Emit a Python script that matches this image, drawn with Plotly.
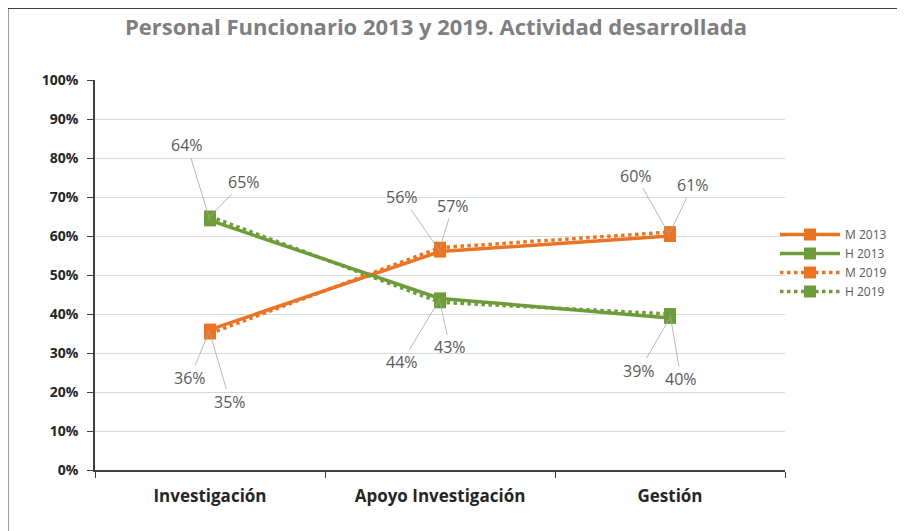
import plotly.graph_objects as go

categories = ["Investigación", "Apoyo Investigación", "Gestión"]
m2013 = [0.36, 0.56, 0.60]
h2013 = [0.64, 0.44, 0.39]
m2019 = [0.35, 0.57, 0.61]
h2019 = [0.65, 0.43, 0.40]
yticks = [0, 0.1, 0.2, 0.3, 0.4, 0.5, 0.6, 0.7, 0.8, 0.9, 1.0]

ORANGE = "#EB7424"
GREEN = "#6F9C3A"
FONT = "Open Sans, sans-serif"

fig = go.Figure()
series = [
    ("M 2013", m2013, ORANGE, "solid"),
    ("H 2013", h2013, GREEN, "solid"),
    ("M 2019", m2019, ORANGE, "dot"),
    ("H 2019", h2019, GREEN, "dot"),
]
for name, vals, col, dash in series:
    fig.add_trace(go.Scatter(
        x=categories, y=vals, name=name, mode="lines+markers",
        line=dict(color=col, width=3.5, dash=dash),
        marker=dict(symbol="square", size=12, color=col),
    ))

# label offsets (px) for each series at each category
offsets = {
    "M 2013": [(-20, 48), (-38, -55), (-34, -60)],
    "H 2013": [(-23, -75), (-38, 64), (-31, 53)],
    "M 2019": [(20, 68), (13, -42), (23, -47)],
    "H 2019": [(34, -35), (10, 45), (11, 65)],
}
for name, vals, col, dash in series:
    for i, v in enumerate(vals):
        ax, ay = offsets[name][i]
        fig.add_annotation(
            x=categories[i], y=v, xref="x", yref="y",
            text=f"{round(v*100)}%", showarrow=True, arrowhead=0,
            arrowwidth=0.8, arrowcolor="#A6A6A6", ax=ax, ay=ay,
            standoff=0, startstandoff=0,
            font=dict(family=FONT, size=16, color="#595959"),
        )

# page has an 8px body margin, so the figure is 897x523 offset by (8, 8)
W, H = 897, 523
L, R, T, B = 87, 120, 72, 61
pw, ph = W - L - R, H - T - B

fig.add_shape(type="rect", xref="paper", yref="paper",
              x0=-L / pw, x1=(W - 1 - L) / pw,
              y0=-(B + 20) / ph, y1=(ph + T - 0.5) / ph,
              line=dict(color="#404040", width=1), fillcolor="white", layer="below")

fig.update_layout(
    width=W, height=H,
    margin=dict(l=L, r=R, t=T, b=B),
    paper_bgcolor="white", plot_bgcolor="rgba(0,0,0,0)",
    title=dict(text="Personal Funcionario 2013 y 2019. Actividad desarrollada",
               x=(436 - 8) / W, xanchor="center", y=1 - (27 - 8) / H, yanchor="middle",
               font=dict(family=FONT, size=22, color="#7F7F7F", weight="bold")),
    showlegend=True,
    legend=dict(x=(775 - 8 - L) / pw, xanchor="left", y=(462 - (263 - 8)) / ph, yanchor="middle",
                font=dict(family=FONT, size=12, color="#595959"),
                tracegroupgap=2, itemwidth=60, bgcolor="rgba(0,0,0,0)"),
    xaxis=dict(range=[-0.5, 2.5], tickson="boundaries", ticks="outside", ticklen=6,
               tickcolor="#404040", showline=True, linecolor="#404040", linewidth=1.5,
               showgrid=False, ticklabelstandoff=10,
               tickfont=dict(family=FONT, size=17, color="#262626", weight="bold")),
    yaxis=dict(range=[0, 1], tickvals=yticks, tickformat=".0%", ticks="outside",
               ticklen=6, tickcolor="#404040", showline=True, linecolor="#404040",
               linewidth=1.5, gridcolor="#D9D9D9", zeroline=False, ticklabelstandoff=6,
               tickfont=dict(family=FONT, size=14, color="#262626", weight="bold")),
)

fig.write_html("out.html")
